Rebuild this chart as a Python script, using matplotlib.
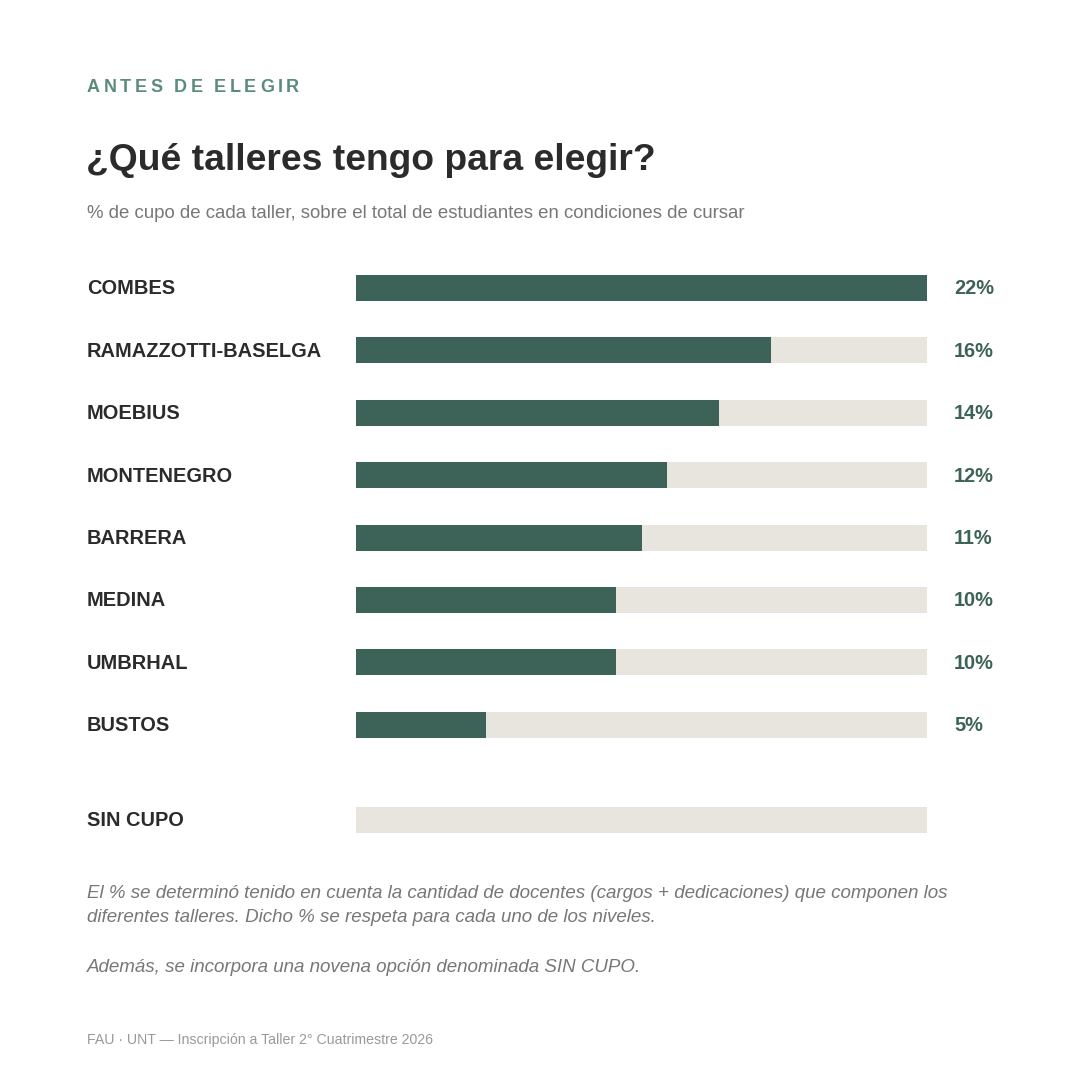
import matplotlib
matplotlib.use("Agg")
import matplotlib.pyplot as plt

talleres = ["COMBES", "RAMAZZOTTI-BASELGA", "MOEBIUS", "MONTENEGRO", "BARRERA", "MEDINA", "UMBRHAL", "BUSTOS"]
cupos = [22, 16, 14, 12, 11, 10, 10, 5]
extra = "SIN CUPO"
maximo = 22

DARK = "#3d6359"
TRACK = "#e8e5df"
ACCENT = "#5b8c78"
TEXT = "#2b2b2b"
GREY = "#777777"

plt.rcParams['font.family'] = ['Liberation Sans', 'DejaVu Sans']
W = H = 1080
fig = plt.figure(figsize=(10.8, 10.8), dpi=100)
fig.patch.set_facecolor("white")
renderer = fig.canvas.get_renderer()

def px(x, y):
    return x / W, 1 - y / H

x0 = 87
for ch in "ANTES DE ELEGIR":
    t = fig.text(*px(x0, 88), ch, color=ACCENT, fontsize=13, fontweight="bold", va="center")
    w = t.get_window_extent(renderer).width if ch != " " else 4
    x0 += w + 3.6

fig.text(*px(86, 160), "¿Qué talleres tengo para elegir?", color=TEXT, fontsize=26.8, fontweight="bold", va="center")
fig.text(*px(87, 213), "% de cupo de cada taller, sobre el total de estudiantes en condiciones de cursar", color=GREY, fontsize=13.4, va="center")

top, bot = 257, 852
ax = fig.add_axes([356 / W, 1 - bot / H, (927 - 356) / W, (bot - top) / H])
ax.set_xlim(0, maximo)
ax.set_ylim(bot, top)
ax.axis("off")

ys = [288 + i * 62.4 for i in range(len(talleres))]
for y, name, v in zip(ys, talleres, cupos):
    ax.barh(y, maximo, height=26, color=TRACK)
    ax.barh(y, v, height=26, color=DARK)
    fig.text(*px(87, y + 1), name, color=TEXT, fontsize=14.4, fontweight="bold", va="center")
    fig.text(*px(954, y + 1), f"{v}%", color=DARK, fontsize=14.4, fontweight="bold", va="center")
ysc = 820
ax.barh(ysc, maximo, height=26, color=TRACK)
fig.text(*px(87, ysc + 1), extra, color=TEXT, fontsize=14.4, fontweight="bold", va="center")

fig.text(*px(87, 894), "El % se determinó tenido en cuenta la cantidad de docentes (cargos + dedicaciones) que componen los",
         color=GREY, fontsize=13.5, style="italic", va="center")
fig.text(*px(87, 918), "diferentes talleres. Dicho % se respeta para cada uno de los niveles.",
         color=GREY, fontsize=13.5, style="italic", va="center")
fig.text(*px(87, 967), "Además, se incorpora una novena opción denominada SIN CUPO.",
         color=GREY, fontsize=13.5, style="italic", va="center")
fig.text(*px(87, 1040), "FAU · UNT — Inscripción a Taller 2° Cuatrimestre 2026", color="#999999", fontsize=10.2, va="center")

fig.savefig("out.png", dpi=100)
